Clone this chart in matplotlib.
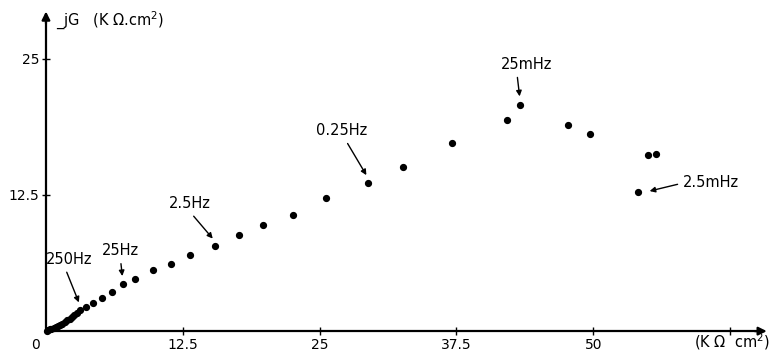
import matplotlib.pyplot as plt
import numpy as np

x_re = [0.1, 0.2, 0.35, 0.5, 0.7, 0.9, 1.1, 1.3, 1.5, 1.7, 1.95, 2.2, 2.4, 2.6, 2.85, 3.1,
        3.7, 4.3, 5.1, 6.0, 7.0, 8.1, 9.8, 11.4, 13.2, 15.4, 17.6, 19.8, 22.6,
        25.6, 29.4, 32.6, 37.1, 42.1, 43.3, 47.7, 49.7, 55.0, 55.7, 54.1]
y_im = [0.05, 0.1, 0.15, 0.22, 0.3, 0.38, 0.48, 0.58, 0.7, 0.82, 0.98, 1.15, 1.3, 1.45, 1.65, 1.9,
        2.2, 2.6, 3.0, 3.6, 4.3, 4.8, 5.6, 6.2, 7.0, 7.8, 8.8, 9.7, 10.7,
        12.2, 13.6, 15.1, 17.3, 19.4, 20.8, 18.9, 18.1, 16.2, 16.3, 12.8]

xticks = [12.5, 25, 37.5, 50, 62.5]
xtick_labels = ['12.5', '25', '37.5', '50', '']
yticks = [12.5, 25]
ytick_labels = ['12.5', '25']

# frequency labels: text, point, text position, arrow start on text
freq_labels = ['250Hz', '25Hz', '2.5Hz', '0.25Hz', '25mHz', '2.5mHz']
freq_pts = [(3.1, 1.9), (7.0, 4.3), (15.4, 7.8), (29.4, 13.6), (43.3, 20.8), (54.1, 12.8)]
freq_txt = [(0.0, 5.9), (5.1, 6.7), (11.2, 11.0), (24.7, 17.7), (41.6, 23.8), (58.2, 13.6)]
freq_rel = [(0.4, 0), (0.5, 0), (0.5, 0), (0.55, 0), (0.3, 0), (0, 0.5)]

fig = plt.figure(figsize=(7.75, 3.54), dpi=100)
ax = fig.add_axes([0, 0, 1, 1])
ax.set_xlim(-4.2, 66.6)
ax.set_ylim(-2.1, 30.4)

ax.plot(x_re, y_im, 'o', color='black', markersize=4.2)

for s in ['top', 'right']:
    ax.spines[s].set_visible(False)
ax.spines['left'].set_position(('data', 0))
ax.spines['bottom'].set_position(('data', 0))
ax.spines['left'].set_bounds(0, 29.0)
ax.spines['bottom'].set_bounds(0, 65.5)
ax.spines['left'].set_linewidth(1.6)
ax.spines['bottom'].set_linewidth(1.6)

ax.set_xticks(xticks, xtick_labels)
ax.set_yticks(yticks, ytick_labels)
ax.tick_params(direction='inout', length=6, width=1, labelsize=10, pad=2)

# axis arrow heads
ax.annotate('', xy=(66.1, 0), xytext=(64.5, 0),
            arrowprops=dict(arrowstyle='-|>', color='black', lw=1.6, mutation_scale=12))
ax.annotate('', xy=(0, 29.6), xytext=(0, 28.0),
            arrowprops=dict(arrowstyle='-|>', color='black', lw=1.6, mutation_scale=12))

ax.text(-0.6, -0.6, '0', ha='right', va='top', fontsize=10)
ax.text(0.9, 28.5, '_jG   (K Ω.cm$^2$)', ha='left', va='center', fontsize=10.5)
ax.text(59.2, -1.0, '(K Ω  cm$^2$)', ha='left', va='center', fontsize=10.5)

for lab, (px, py), (tx, ty), rel in zip(freq_labels, freq_pts, freq_txt, freq_rel):
    if lab == '2.5mHz':
        ax.annotate(lab, xy=(px + 0.8, py), xytext=(tx, ty), ha='left', va='center',
                    fontsize=10.5,
                    arrowprops=dict(arrowstyle='-|>', color='black', lw=1,
                                    mutation_scale=8, shrinkA=2, shrinkB=2,
                                    relpos=rel))
    else:
        ax.annotate(lab, xy=(px, py + 0.5), xytext=(tx, ty), ha='left', va='bottom',
                    fontsize=10.5,
                    arrowprops=dict(arrowstyle='-|>', color='black', lw=1,
                                    mutation_scale=8, shrinkA=2, shrinkB=2,
                                    relpos=rel))

fig.savefig('out.png', dpi=100)
